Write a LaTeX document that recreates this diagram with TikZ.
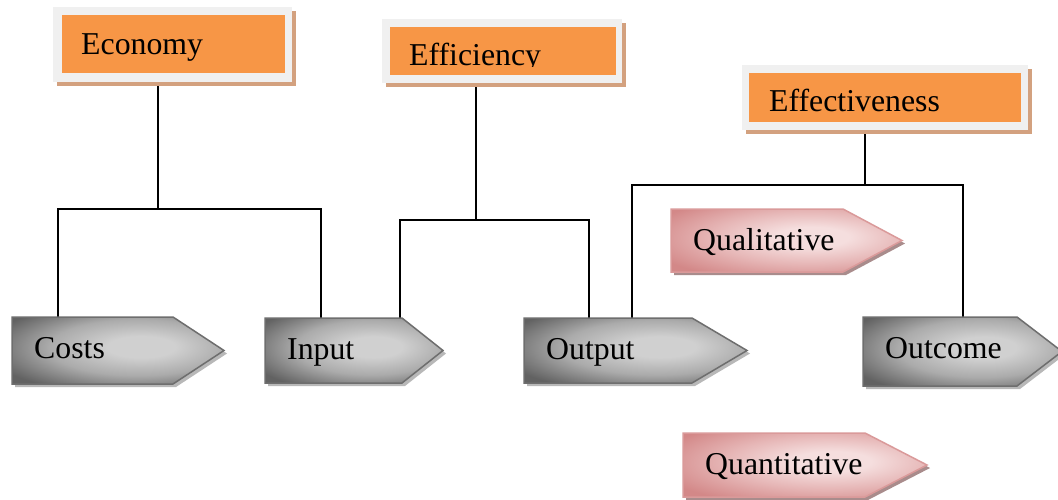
\documentclass[tikz,border=0pt]{standalone}
\usepackage{fontspec}
\setmainfont{Liberation Serif}
\definecolor{orng}{HTML}{F79646}
\definecolor{frm}{HTML}{F0F0F0}
\definecolor{tanc}{HTML}{D3A17F}
\definecolor{gdark}{HTML}{626262}
\definecolor{gmid}{HTML}{ABABAB}
\definecolor{glight}{HTML}{D0D0D0}
\definecolor{gedge}{HTML}{6E6E6E}
\definecolor{gshad}{HTML}{B8B8B8}
\definecolor{plight}{HTML}{F5DEDE}
\definecolor{pmid}{HTML}{E6B6B6}
\definecolor{pdark}{HTML}{D38888}
\definecolor{pedge}{HTML}{DA9A9A}
\definecolor{pshad}{HTML}{A98C8C}
\pgfdeclareradialshading{grayrad}{\pgfpoint{6bp}{3bp}}{color(0bp)=(glight); color(8bp)=(glight); color(21bp)=(gmid); color(35bp)=(gdark); color(100bp)=(gdark)}
\pgfdeclareradialshading{pinkrad}{\pgfpoint{6bp}{3bp}}{color(0bp)=(plight); color(8bp)=(plight); color(21bp)=(pmid); color(35bp)=(pdark); color(100bp)=(pdark)}
\tikzset{
  lbl/.style={font=\fontsize{31.8}{36}\selectfont, inner sep=0pt, text=black},
  framebox/.style={fill=frm, inner sep=0pt},
  conn/.style={draw=black, line width=1.6pt},
  graysh/.style={fill=gshad},
  graybody/.style={shading=grayrad, draw=gedge, line width=1.5pt, line join=miter},
  pinksh/.style={fill=pshad},
  pinkbody/.style={shading=pinkrad, draw=pedge, line width=1.5pt, line join=miter},
}
\newcommand\pentagon[8]{%
  \fill[#7sh, shift={(3,3)}] (#2,#3) -- (#4,#3) -- (#5,{(#3+#6)/2}) -- (#4,#6) -- (#2,#6) -- cycle;
  \path[#7body] (#2,#3) -- (#4,#3) -- (#5,{(#3+#6)/2}) -- (#4,#6) -- (#2,#6) -- cycle;
  \node[lbl, anchor=base west] (#1) at ({#2+22},{#3+41}) {#8};
}
\begin{document}
\begin{tikzpicture}[x=1pt,y=-1pt]
\clip (0,0) rectangle (1058,499);
\fill[white] (0,0) rectangle (1058,499);

% orange title boxes
\fill[tanc] (57,11) rectangle (296,86);
\node[framebox, anchor=north west, minimum width=239pt, minimum height=75pt] (ecof) at (53,7) {};
\fill[orng] (62,15) rectangle (285,73);
\node[lbl, anchor=base west] (ecot) at (81,54) {Economy};

\fill[tanc] (386,23) rectangle (626,87);
\node[framebox, anchor=north west, minimum width=240pt, minimum height=64pt] (efff) at (382,19) {};
\fill[orng] (390,27) rectangle (616,75);
\begin{scope}
  \clip (390,27) rectangle (616,66);
  \node[lbl, anchor=base west] (efft) at (409,65) {Efficiency};
\end{scope}

\fill[tanc] (746,69) rectangle (1032,134);
\node[framebox, anchor=north west, minimum width=286pt, minimum height=65pt] (ectf) at (742,65) {};
\fill[orng] (749,73) rectangle (1021,122);
\node[lbl, anchor=base west] (ectt) at (769,111) {Effectiveness};

% connector points
\coordinate (e1) at (158,86);  \coordinate (j1) at (158,209);
\coordinate (j1l) at (58,209); \coordinate (j1r) at (321,209);
\coordinate (costsin) at (58,317); \coordinate (inputin1) at (321,318);
\coordinate (e2) at (476,87);  \coordinate (j2) at (476,220);
\coordinate (j2l) at (400,220); \coordinate (j2r) at (589,220);
\coordinate (inputin2) at (400,318); \coordinate (outputin1) at (589,318);
\coordinate (e3) at (865,134); \coordinate (j3) at (865,185);
\coordinate (j3l) at (632,185); \coordinate (j3r) at (963,185);
\coordinate (outputin2) at (632,318); \coordinate (outcomein) at (963,317);

\draw[conn] (e1) -- (j1);
\draw[conn] (costsin) -- (j1l) -- (j1r) -- (inputin1);
\draw[conn] (e2) -- (j2);
\draw[conn] (inputin2) -- (j2l) -- (j2r) -- (outputin1);
\draw[conn] (e3) -- (j3);
\draw[conn] (outputin2) -- (j3l) -- (j3r) -- (outcomein);

% pentagon arrows
\pentagon{costs}{12}{317}{173}{224}{384}{gray}{Costs}
\pentagon{input}{265}{318}{402}{443}{383}{gray}{Input}
\pentagon{output}{524}{318}{692}{747}{383}{gray}{Output}
\pentagon{outcome}{863}{317}{1017}{1062}{386}{gray}{Outcome}
\pentagon{quali}{671}{209}{843}{902}{272}{pink}{Qualitative}
\pentagon{quanti}{683}{433}{865}{927}{497}{pink}{Quantitative}
\end{tikzpicture}
\end{document}
